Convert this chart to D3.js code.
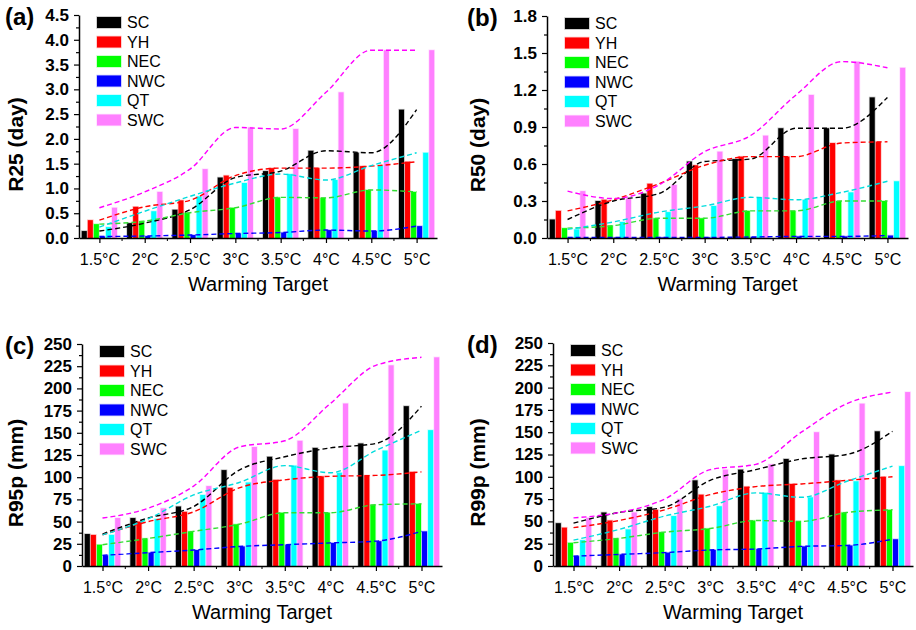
<!DOCTYPE html>
<html>
<head>
<meta charset="utf-8">
<script src="https://cdn.jsdelivr.net/npm/d3@7"></script>
<style>
  body { margin: 0; background: #fff; }
  text { font-family: "Liberation Sans", Arial, sans-serif; }
</style>
</head>
<body>
<div id="chart"></div>
<script>
// warming targets on the x axis
const targets = ["1.5°C", "2°C", "2.5°C", "3°C", "3.5°C", "4°C", "4.5°C", "5°C"];
const regions = ["SC", "YH", "NEC", "NWC", "QT", "SWC"];
const regionColors = ["#000000", "#ff0000", "#00ff00", "#0000ff", "#00ffff", "#ff80ff"];
const lineColors = ["#000000", "#ff0000", "#33dd33", "#0000ff", "#00dddd", "#ff00ff"];

// one row per region, same order as `regions`
const r25 = [
  [0.14, 0.30, 0.57, 1.22, 1.35, 1.76, 1.72, 2.59],
  [0.36, 0.63, 0.76, 1.26, 1.41, 1.41, 1.45, 1.54],
  [0.28, 0.34, 0.51, 0.61, 0.82, 0.81, 0.97, 0.93],
  [0.03, 0.04, 0.06, 0.09, 0.11, 0.16, 0.14, 0.24],
  [0.22, 0.54, 0.84, 1.11, 1.29, 1.17, 1.46, 1.72],
  [0.61, 0.93, 1.39, 2.23, 2.20, 2.94, 3.79, 3.79]
];
const r50 = [
  [0.15, 0.30, 0.36, 0.62, 0.64, 0.89, 0.89, 1.14],
  [0.22, 0.31, 0.44, 0.59, 0.66, 0.66, 0.77, 0.78],
  [0.08, 0.10, 0.16, 0.16, 0.22, 0.22, 0.30, 0.30],
  [0.004, 0.004, 0.005, 0.005, 0.008, 0.013, 0.013, 0.02],
  [0.07, 0.13, 0.21, 0.26, 0.33, 0.31, 0.37, 0.46],
  [0.38, 0.32, 0.43, 0.70, 0.83, 1.16, 1.43, 1.38]
];
const r95p = [
  [36, 54, 67, 108, 123, 133, 138, 180],
  [35, 50, 61, 88, 97, 101, 102, 106],
  [24, 31, 39, 47, 60, 60, 69, 70],
  [12, 15, 18, 22, 24, 26, 28, 39],
  [35, 53, 80, 94, 113, 105, 130, 153],
  [54, 65, 90, 134, 141, 183, 226, 235]
];
const r99p = [
  [48, 60, 66, 96, 108, 120, 125, 151],
  [43, 51, 63, 80, 89, 92, 96, 100],
  [26, 31, 38, 42, 51, 50, 60, 63],
  [11, 13, 15, 18, 19, 22, 23, 30],
  [29, 41, 56, 67, 82, 77, 95, 112],
  [54, 60, 75, 108, 114, 150, 182, 195]
];

const svg = d3.select("#chart").append("svg")
    .attr("width", 916)
    .attr("height", 630);

// box = [left, right, top, bottom] of the plot area
const panels = [
  {tag: "(a)", title: "R25 (day)", values: r25, max: 4.5, step: 0.5, fmt: d3.format(".1f"), box: [79, 437, 15, 238], ox: 0},
  {tag: "(b)", title: "R50 (day)", values: r50, max: 1.8, step: 0.3, fmt: d3.format(".1f"), box: [547, 908, 16, 238], ox: 462},
  {tag: "(c)", title: "R95p (mm)", values: r95p, max: 250, step: 25, fmt: d3.format("d"), box: [82, 442, 344, 566], ox: 0},
  {tag: "(d)", title: "R99p (mm)", values: r99p, max: 250, step: 25, fmt: d3.format("d"), box: [553, 913, 343, 566], ox: 462}
];

panels.forEach(p => {
    const [x0, x1, y0, y1] = p.box;
    const g = svg.append("g");

    const x = d3.scalePoint().domain(targets).range([x0, x1]).padding(0.45);
    const y = d3.scaleLinear().domain([0, p.max]).range([y1, y0]);
    const slot = x.step() * 0.8 / regions.length;

    // bars
    regions.forEach((r, i) => {
        g.append("g").selectAll("rect")
            .data(p.values[i])
            .join("rect")
            .attr("x", (d, j) => x(targets[j]) - slot * regions.length / 2 + i * slot + 0.5)
            .attr("width", slot - 1)
            .attr("y", d => y(d))
            .attr("height", d => y(0) - y(d))
            .attr("fill", regionColors[i])
            .attr("stroke", regionColors[i])
            .attr("stroke-opacity", 0.25)
            .attr("stroke-width", 1.5);
    });

    // dashed trend lines through the group centres
    const line = d3.line()
        .x((d, j) => x(targets[j]))
        .y(d => y(d))
        .curve(d3.curveMonotoneX);
    regions.forEach((r, i) => {
        g.append("path")
            .datum(p.values[i])
            .attr("d", line)
            .attr("fill", "none")
            .attr("stroke", lineColors[i])
            .attr("stroke-width", 1.4)
            .attr("stroke-dasharray", "5,3");
    });

    // y axis with minor ticks
    const yMinor = g.append("g").attr("transform", `translate(${x0},0)`)
        .call(d3.axisLeft(y).tickValues(d3.range(p.step / 2, p.max, p.step)).tickSize(3).tickFormat(""));
    yMinor.select(".domain").remove();
    const yAx = g.append("g").attr("transform", `translate(${x0},0)`)
        .call(d3.axisLeft(y)
            .tickValues(d3.range(0, p.max + 1e-9, p.step))
            .tickFormat(p.fmt)
            .tickSize(5)
            .tickSizeOuter(0)
            .tickPadding(5));
    yAx.selectAll("text").attr("font-size", 17).attr("font-weight", "bold").attr("fill", "#000");

    // x axis: major ticks at targets, minor half-way between
    const minorX = targets.slice(1).map((t, j) => (x(targets[j]) + x(t)) / 2);
    g.append("g").selectAll("line")
        .data(minorX)
        .join("line")
        .attr("x1", d => d).attr("x2", d => d)
        .attr("y1", y1).attr("y2", y1 + 3)
        .attr("stroke", "#000");
    const xAx = g.append("g").attr("transform", `translate(0,${y1})`)
        .call(d3.axisBottom(x).tickSize(5).tickSizeOuter(0).tickPadding(11));
    xAx.selectAll("text").attr("font-size", 16).attr("fill", "#000");

    g.selectAll(".domain").attr("stroke-width", 1.5);
    g.selectAll(".tick line").attr("stroke-width", 1.2);

    // legend
    const leg = g.append("g").attr("transform", `translate(${x0 + 18},${y0 + 2})`);
    regions.forEach((r, i) => {
        leg.append("rect")
            .attr("x", 0).attr("y", i * 19.5)
            .attr("width", 24).attr("height", 11)
            .attr("fill", regionColors[i])
            .attr("stroke", regionColors[i])
            .attr("stroke-opacity", 0.25)
            .attr("stroke-width", 1.5);
        leg.append("text")
            .attr("x", 30).attr("y", i * 19.5 + 11)
            .attr("font-size", 16)
            .text(r);
    });

    // titles
    g.append("text")
        .attr("x", (x0 + x1) / 2).attr("y", y1 + 53)
        .attr("text-anchor", "middle")
        .attr("font-size", 20)
        .text("Warming Target");
    g.append("text")
        .attr("transform", `translate(${p.ox + 23},${(y0 + y1) / 2 + 18}) rotate(-90)`)
        .attr("text-anchor", "middle")
        .attr("font-size", 21)
        .attr("font-weight", "bold")
        .text(p.title);
    g.append("text")
        .attr("x", p.ox + 5).attr("y", y0 + 10)
        .attr("font-size", 24)
        .attr("font-weight", "bold")
        .text(p.tag);
});
</script>
</body>
</html>
